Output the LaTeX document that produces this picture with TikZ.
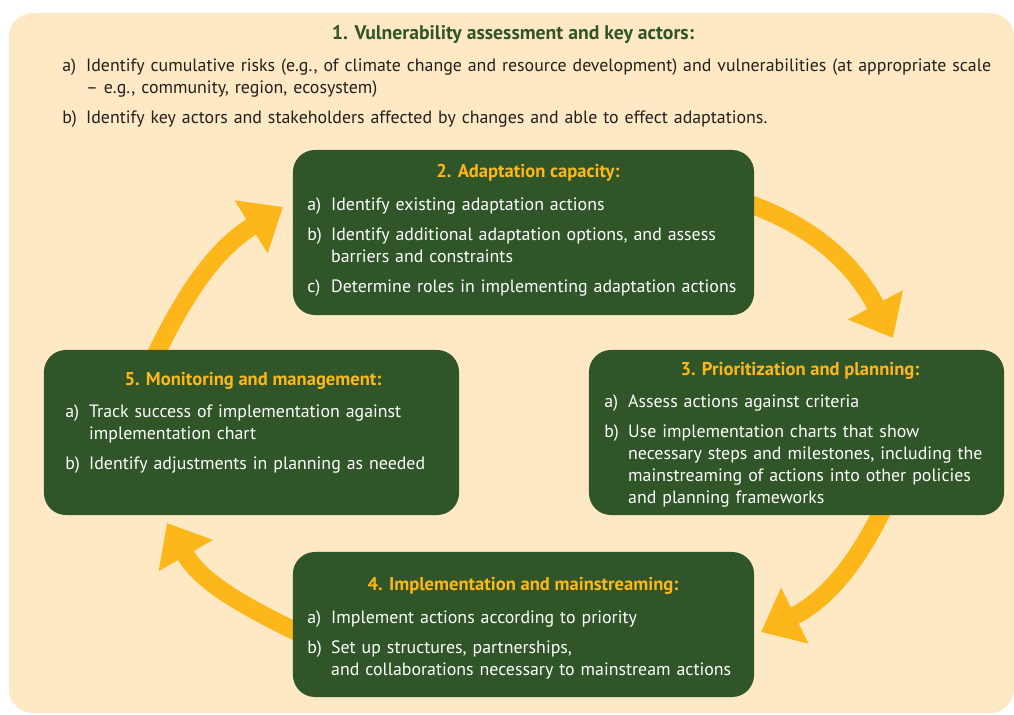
\documentclass[tikz,border=0pt]{standalone}
\usepackage{fontspec}
\setmainfont{PT Sans}
\usetikzlibrary{calc,arrows.meta,backgrounds}
\definecolor{cream}{HTML}{FEE9C4}
\definecolor{leaf}{HTML}{2F5529}
\definecolor{gold}{HTML}{FDB71A}
\definecolor{ink}{HTML}{231F20}
\newcommand\itm[2]{\par\setlength\parskip{5.7pt}\hangindent=17pt\hangafter=1\noindent\makebox[17pt][l]{#1}#2\par}

\begin{document}
\begin{tikzpicture}[x=.025cm,y=.025cm,
  box/.style={fill=leaf,rounded corners=.55cm,inner sep=0,outer sep=0},
  ttl/.style={anchor=base,inner sep=0,font=\bfseries\fontsize{13.2}{15.6}\selectfont,text=gold},
  lst/.style={anchor=base west,inner sep=0,align=left,text width=11.5cm,text=white,font=\fontsize{12.7}{15.65}\selectfont},
  arr/.style={draw=gold,line width=12.8pt,-{Triangle[length=26.7pt,width=42.7pt]}}]
\useasboundingbox (0,0) rectangle (1014,715);
% the four steps of the cycle
\node[box,minimum width=11.525cm,minimum height=4.125cm] (box2) at (523.5,482.5) {};
\node[box,minimum width=10.375cm,minimum height=4.125cm] (box3) at (796.5,282.5) {};
\node[box,minimum width=11.525cm,minimum height=3.625cm] (box4) at (523.5,90.5) {};
\node[box,minimum width=10.375cm,minimum height=4.125cm] (box5) at (251.5,282.5) {};
% step 1 sits on the background
\node[ttl,text=leaf,font=\bfseries\fontsize{14}{16}\selectfont] (t1) at (513,675) {1. Vulnerability assessment and key actors:};
\node[lst,text=ink,text width=24cm] (l1) at (62,674) {\itm{a)}{Identify cumulative risks (e.g., of climate change and resource development) and vulnerabilities (at appropriate scale\newline
  – e.g., community, region, ecosystem)}\itm{b)}{Identify key actors and stakeholders affected by changes and able to effect adaptations.}};
\node[ttl] (t2) at (528,537) {2. Adaptation capacity:};
\node[lst] (l2) at (307,535) {\itm{a)}{Identify existing adaptation actions}\itm{b)}{Identify additional adaptation options, and assess\newline
  barriers and constraints}\itm{c)}{Determine roles in implementing adaptation actions}};
\node[ttl] (t3) at (800,339) {3. Prioritization and planning:};
\node[lst] (l3) at (604,338) {\itm{a)}{Assess actions against criteria}\itm{b)}{Use implementation charts that show\newline
  necessary steps and milestones, including the\newline mainstreaming of actions into other policies\newline and planning frameworks}};
\node[ttl] (t4) at (523,124) {4. Implementation and mainstreaming:};
\node[lst] (l4) at (307,122) {\itm{a)}{Implement actions according to priority}\itm{b)}{Set up structures, partnerships,\newline
  and collaborations necessary to mainstream actions}};
\node[ttl] (t5) at (253,329) {5. Monitoring and management:};
\node[lst] (l5) at (65,328) {\itm{a)}{Track success of implementation against\newline
  implementation chart}\itm{b)}{Identify adjustments in planning as needed}};
\begin{scope}[on background layer]
\fill[cream,rounded corners=.6cm] (9,2) rectangle (1014,702);
\draw[arr] ($(box2.7)+(-4,0)$) to[out=-20,in=118] ($(box3.north)+(96.5,12)$);
\draw[arr] ($(box3.south)+(85.5,4)$) to[out=-116,in=26] ($(box4.east)+(7,-7.5)$);
\draw[arr] ($(box4.west)+(4,-7.5)$) to[out=154,in=-60] ($(box5.south)+(-84.5,-8)$);
\draw[arr] ($(box5.north)+(-95.5,-4)$) to[out=64,in=212] ($(box2.west)+(-10,25.5)$);
\end{scope}
\end{tikzpicture}
\end{document}
